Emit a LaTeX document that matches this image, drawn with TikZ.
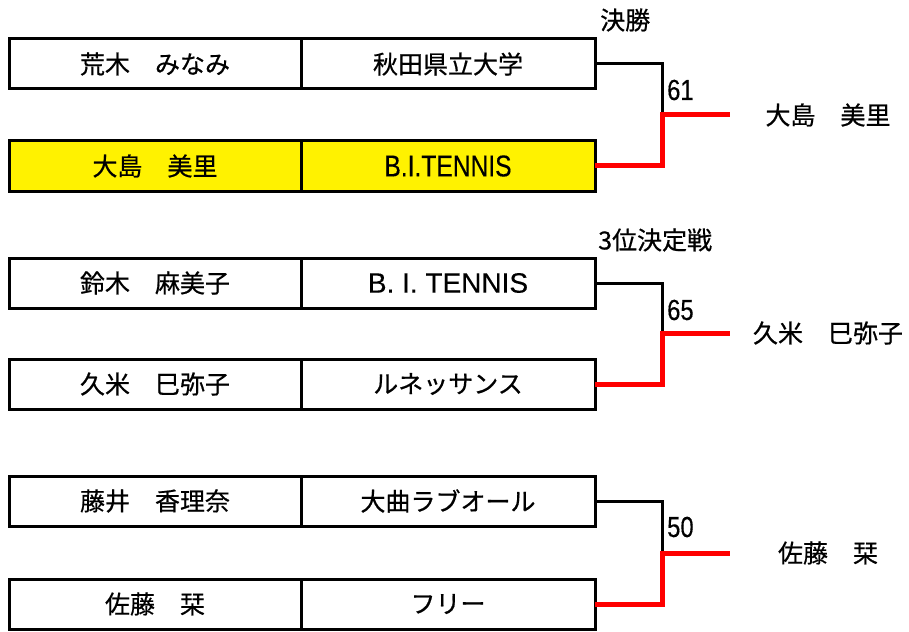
\documentclass[tikz,border=0pt]{standalone}
\usepackage{fontspec}
\setmainfont{Noto Sans CJK JP}[FakeBold=0.6]
\newfontfamily\latinfont{Liberation Sans}[FakeBold=0.3]
\newfontfamily\narrowfont{Liberation Sans}[FakeStretch=0.82,FakeBold=0.3]
\usetikzlibrary{positioning}
\begin{document}
\begin{tikzpicture}[x=1pt,y=-1pt,
    cell/.style={draw,line width=3pt,outer sep=0pt,inner sep=0pt,minimum height=50pt,font=\fontsize{25}{25}\selectfont},
    namecell/.style={cell,minimum width=292pt},
    clubcell/.style={cell,minimum width=294pt},
    loseline/.style={line width=3pt},
    winline/.style={line width=5pt,red},
    roundtitle/.style={anchor=west,inner sep=0pt,font=\fontsize{25}{25}\selectfont},
    score/.style={anchor=west,inner sep=0pt,font=\narrowfont\fontsize{29}{29}\selectfont},
    winner/.style={inner sep=0pt,font=\fontsize{25}{25}\selectfont}]
    \useasboundingbox (0,0) rectangle (909,631);

    % финал
    \node[roundtitle] (t1) at (600,20) {決勝};
    \node[namecell] (p1) at (155,64) {荒木　みなみ};
    \node[clubcell,right=0pt of p1] (c1) {秋田県立大学};
    \node[namecell,fill=yellow] (p2) at (155,166) {大島　美里};
    \node[clubcell,fill=yellow,right=0pt of p2,font=\narrowfont\fontsize{30}{30}\selectfont] (c2) {B.I.TENNIS};
    \coordinate (m1) at (662,115);
    \coordinate (e1) at (730,115);
    \draw[loseline] (c1.east) -| (m1);
    \draw[winline] (c2.east) -| (m1) -- (e1);
    \node[score] (s1) at (667,90) {61};
    \node[winner] (w1) at (828,115) {大島　美里};

    % за 3 место
    \node[roundtitle] (t2) at (598,240) {3位決定戦};
    \node[namecell] (p3) at (155,283) {鈴木　麻美子};
    \node[clubcell,right=0pt of p3,font=\latinfont\fontsize{28}{28}\selectfont] (c3) {B. I. TENNIS};
    \node[namecell] (p4) at (155,384) {久米　巳弥子};
    \node[clubcell,right=0pt of p4] (c4) {ルネッサンス};
    \coordinate (m2) at (662,333);
    \coordinate (e2) at (730,333);
    \draw[loseline] (c3.east) -| (m2);
    \draw[winline] (c4.east) -| (m2) -- (e2);
    \node[score] (s2) at (667,310) {65};
    \node[winner] (w2) at (828,333) {久米　巳弥子};

    % третья пара
    \node[namecell] (p5) at (155,501) {藤井　香理奈};
    \node[clubcell,right=0pt of p5] (c5) {大曲ラブオール};
    \node[namecell] (p6) at (155,604) {佐藤　栞};
    \node[clubcell,right=0pt of p6] (c6) {フリー};
    \coordinate (m3) at (662,553);
    \coordinate (e3) at (730,553);
    \draw[loseline] (c5.east) -| (m3);
    \draw[winline] (c6.east) -| (m3) -- (e3);
    \node[score] (s3) at (667,527) {50};
    \node[winner] (w3) at (828,553) {佐藤　栞};
\end{tikzpicture}
\end{document}
